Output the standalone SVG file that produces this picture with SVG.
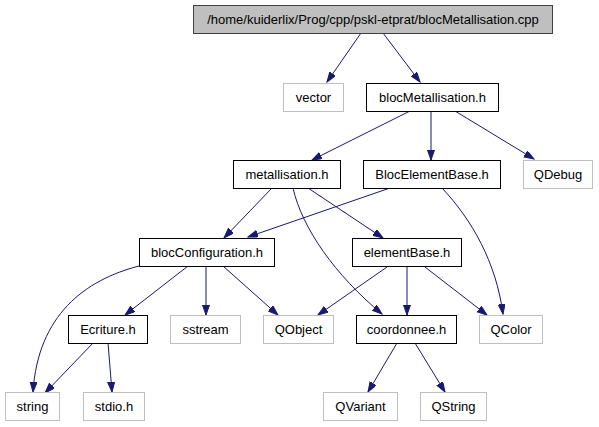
<svg xmlns="http://www.w3.org/2000/svg" width="599" height="427" viewBox="0 0 599 427">
<style>
.n rect{fill:#fff;stroke:#000;stroke-width:1}
.g rect{fill:#fff;stroke:#bfbfbf;stroke-width:1}
.r rect{fill:#bfbfbf;stroke:#404040;stroke-width:1}
text{font-family:"Liberation Sans",Arial,sans-serif;font-size:13px;text-anchor:middle;fill:#000}
.e path{fill:none;stroke:#191970;stroke-width:1;marker-end:url(#a)}
</style>
<defs>
<marker id="a" markerUnits="userSpaceOnUse" markerWidth="11" markerHeight="8" refX="10" refY="3.5" orient="auto">
<path d="M0,0 L10,3.5 L0,7 z" fill="#191970" stroke="#191970" stroke-width="1"/>
</marker>
</defs>
<rect width="599" height="427" fill="#fff"/>
<g class="e" id="edges">
<path d="M361,33 L327,82"/>
<path d="M383,33 L420,82"/>
<path d="M410,111 L312,160"/>
<path d="M431,111 L431,160"/>
<path d="M455,111 L534,159"/>
<path d="M272,188 L224,238"/>
<path d="M390,188 L248,237"/>
<path d="M308,188 L383,238"/>
<path d="M293,188 C302,228 335,275 382,314"/>
<path d="M442,188 C472,220 496,262 503,314"/>
<path d="M387,267 L318,315"/>
<path d="M407,267 L407,315"/>
<path d="M425,267 L487,315"/>
<path d="M139,266 C85,280 38,315 33,392"/>
<path d="M188,266 L125,315"/>
<path d="M206,266 L206,315"/>
<path d="M223,266 L278,315"/>
<path d="M93,343 L45,393"/>
<path d="M108,343 L112,392"/>
<path d="M397,343 L368,392"/>
<path d="M415,343 L445,392"/>
</g>
<g id="root" class="r"><rect x="193.5" y="5.5" width="359" height="28"/><text x="373" y="24">/home/kuiderlix/Prog/cpp/pskl-etprat/blocMetallisation.cpp</text></g>
<g id="vector" class="g"><rect x="283.5" y="83.5" width="60" height="28"/><text x="313.5" y="102">vector</text></g>
<g id="blocMetallisation" class="n"><rect x="366.5" y="83.5" width="132" height="28"/><text x="432.5" y="102">blocMetallisation.h</text></g>
<g id="metallisation" class="n"><rect x="233.5" y="160.5" width="107" height="28"/><text x="287" y="179">metallisation.h</text></g>
<g id="BlocElementBase" class="n"><rect x="363.5" y="160.5" width="137" height="28"/><text x="432" y="179">BlocElementBase.h</text></g>
<g id="QDebug" class="g"><rect x="523.5" y="160.5" width="69" height="28"/><text x="558" y="179">QDebug</text></g>
<g id="blocConfiguration" class="n"><rect x="139.5" y="238.5" width="135" height="28"/><text x="207" y="257">blocConfiguration.h</text></g>
<g id="elementBase" class="n"><rect x="352.5" y="238.5" width="109" height="28"/><text x="407" y="257">elementBase.h</text></g>
<g id="Ecriture" class="n"><rect x="68.5" y="315.5" width="79" height="28"/><text x="108" y="334">Ecriture.h</text></g>
<g id="sstream" class="g"><rect x="170.5" y="315.5" width="70" height="28"/><text x="205.5" y="334">sstream</text></g>
<g id="QObject" class="g"><rect x="263.5" y="315.5" width="70" height="28"/><text x="298.5" y="334">QObject</text></g>
<g id="coordonnee" class="n"><rect x="356.5" y="315.5" width="100" height="28"/><text x="406.5" y="334">coordonnee.h</text></g>
<g id="QColor" class="g"><rect x="479.5" y="315.5" width="63" height="28"/><text x="511" y="334">QColor</text></g>
<g id="string" class="g"><rect x="5.5" y="392.5" width="54" height="28"/><text x="32.5" y="411">string</text></g>
<g id="stdio" class="g"><rect x="83.5" y="392.5" width="61" height="28"/><text x="114" y="411">stdio.h</text></g>
<g id="QVariant" class="g"><rect x="323.5" y="392.5" width="74" height="28"/><text x="360.5" y="411">QVariant</text></g>
<g id="QString" class="g"><rect x="420.5" y="392.5" width="66" height="28"/><text x="453.5" y="411">QString</text></g>
</svg>
